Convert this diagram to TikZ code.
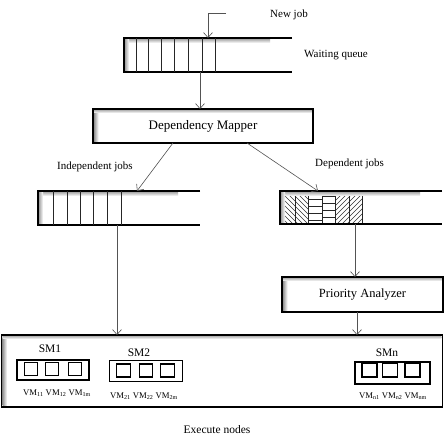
\documentclass[tikz,border=0pt]{standalone}
\usepackage{fontspec}
\setmainfont{Liberation Serif}
\usetikzlibrary{arrows.meta,calc}
\newcommand\qlines[1]{%
  \shade[top color=gray!70, bottom color=white] ($(#1.north west)+(1,0.8)$) rectangle ($(#1.north east)+(-22,5)$);
  \shade[left color=gray!75, right color=white] ($(#1.north west)+(0.8,1)$) rectangle ($(#1.south west)+(5,-1)$);
  \draw[qedge] (#1.north east) -- (#1.north west) -- (#1.south west) -- (#1.south east);}
\newcommand\bshadow[1]{%
  \shade[left color=gray!80, right color=white] ($(#1.north west)+(1.2,1.2)$) rectangle ($(#1.south west)+(5.5,-1.2)$);
  \shade[top color=gray!55, bottom color=white] ($(#1.north west)+(1.2,1.2)$) rectangle ($(#1.north east)+(-1.2,4)$);}
\begin{document}
\begin{tikzpicture}[x=1pt,y=-1pt,
  arr/.style={draw=gray!65!black, line width=0.6pt, -{Straight Barb[length=5pt,width=9pt]}},
  qedge/.style={line width=1.6pt, black},
  qnode/.style={minimum width=#1, minimum height=34pt, inner sep=0pt, outer sep=0pt},
  procbox/.style={draw, line width=1.8pt, inner sep=0pt, outer sep=0pt, font=\fontsize{13}{15}\selectfont},
  lbl/.style={inner sep=0pt, font=\fontsize{11}{13}\selectfont},
  smlbl/.style={inner sep=0pt, font=\fontsize{11.5}{13}\selectfont},
  vmlbl/.style={inner sep=0pt, font=\fontsize{8.7}{10}\selectfont},
  smbox/.style={draw, line width=1.4pt, inner sep=0pt, minimum width=73pt, minimum height=21pt},
  vmsq/.style={draw, line width=1.3pt, inner sep=0pt, minimum width=13.5pt, minimum height=13pt},
  sep/.style={line width=0.5pt, draw=gray!30!black}
]
\useasboundingbox (0,0) rectangle (445,438);
\fill[white] (0,0) rectangle (445,438);

% waiting queue
\node[qnode=168pt] (wq) at (208,55) {};
\qlines{wq}
\foreach \d in {12,24,37,50,64,78,91} \draw[sep] ($(wq.north west)+(\d,0)$) -- ($(wq.south west)+(\d,0)$);
\coordinate (nj) at (226,13);
\draw[arr] (nj) -- (nj -| 208,0) -- (208,0 |- wq.north);
\node[lbl, anchor=west] (newjob) at (270,15) {New job};
\node[lbl, anchor=west] (wqlbl) at (304,55) {Waiting queue};

% dependency mapper
\node[procbox, minimum width=220pt, minimum height=34pt] (dm) at (203,126) {Dependency Mapper};
\bshadow{dm}
\draw[arr] ([xshift=-8pt]wq.south) -- ([xshift=-8pt]wq.south |- dm.north);

% independent queue
\node[qnode=162pt] (iq) at (119,208) {};
\qlines{iq}
\foreach \d in {15,29,42,55,69,83} \draw[sep] ($(iq.north west)+(\d,0)$) -- ($(iq.south west)+(\d,0)$);
\node[lbl, anchor=west] (indl) at (57,167) {Independent jobs};

% dependent queue
\node[qnode=162pt, minimum height=33pt] (dq) at (361,207.5) {};
\begin{scope}
  \clip (280,191) rectangle (308,224);
  \foreach \i in {-40,-35,...,30} \draw[line width=0.45pt, gray!40!black] (280+\i,191) -- (313+\i,224);
\end{scope}
\begin{scope}
  \clip (335,191) rectangle (362,224);
  \foreach \i in {-5,0,...,65} \draw[line width=0.45pt, gray!40!black] (335+\i,191) -- (302+\i,224);
\end{scope}
\foreach \yy in {199,206,213,220} \draw[line width=0.6pt, gray!30!black] (308,\yy) -- (322,\yy);
\foreach \yy in {196,203,210,217} \draw[line width=0.6pt, gray!30!black] (322,\yy) -- (335,\yy);
\foreach \xx in {295,308,322,335,349,362} \draw[sep] (\xx,191) -- (\xx,224);
\qlines{dq}
\node[lbl, anchor=west] (depl) at (315,164) {Dependent jobs};

\draw[arr] ([xshift=-30pt]dm.south) -- ([xshift=18pt]iq.north);
\draw[arr] ([xshift=44pt]dm.south) -- ([xshift=-43pt]dq.north);

% priority analyzer
\node[procbox, font=\fontsize{12.5}{14}\selectfont, minimum width=161pt, minimum height=35pt] (pa) at (362.5,294.5) {Priority Analyzer};
\bshadow{pa}
\draw[arr] (355,0 |- dq.south) -- (355,0 |- pa.north);

% execute nodes box
\node[draw, line width=1.8pt, minimum width=441pt, minimum height=72pt, inner sep=0pt, outer sep=0pt] (ex) at (222,371) {};
\bshadow{ex}
\draw[arr] (117,0 |- iq.south) -- (117,0 |- ex.north);
\draw[arr] (357,0 |- pa.south) -- (357,0 |- ex.north);

% SM1
\node[smbox, minimum width=72pt, minimum height=20pt] (sm1) at (53,370) {};
\node[vmsq] (v11) at (31,369) {};
\node[vmsq] (v12) at (52,369) {};
\node[vmsq] (v13) at (75,369) {};
\node[smlbl] (sm1l) at (50,349) {SM1};
\node[vmlbl] (vm1) at (57,393) {VM\textsubscript{11} VM\textsubscript{12} VM\textsubscript{1m}};

% SM2
\node[smbox] (sm2) at (146,371) {};
\node[vmsq] (v21) at (123.5,370.5) {};
\node[vmsq] (v22) at (146,370.5) {};
\node[vmsq] (v23) at (167.5,370.5) {};
\node[smlbl] (sm2l) at (139,353) {SM2};
\node[vmlbl] (vm2) at (144,396) {VM\textsubscript{21} VM\textsubscript{22} VM\textsubscript{2m}};

% SMn
\node[smbox, line width=1.7pt, minimum width=75pt, minimum height=22pt] (smn) at (392.5,373) {};
\node[vmsq, minimum width=15pt, minimum height=14pt] (vn1) at (369.5,370) {};
\node[vmsq, minimum width=15pt, minimum height=14pt] (vn2) at (390,370) {};
\node[vmsq, minimum width=15pt, minimum height=14pt] (vn3) at (412.5,370) {};
\node[smlbl] (smnl) at (387,353) {SMn};
\node[vmlbl] (vmn) at (393,396) {VM\textsubscript{n1} VM\textsubscript{n2} VM\textsubscript{nm}};

\node[lbl, font=\fontsize{11.5}{13}\selectfont] (exl) at (217,430) {Execute nodes};
\end{tikzpicture}
\end{document}
